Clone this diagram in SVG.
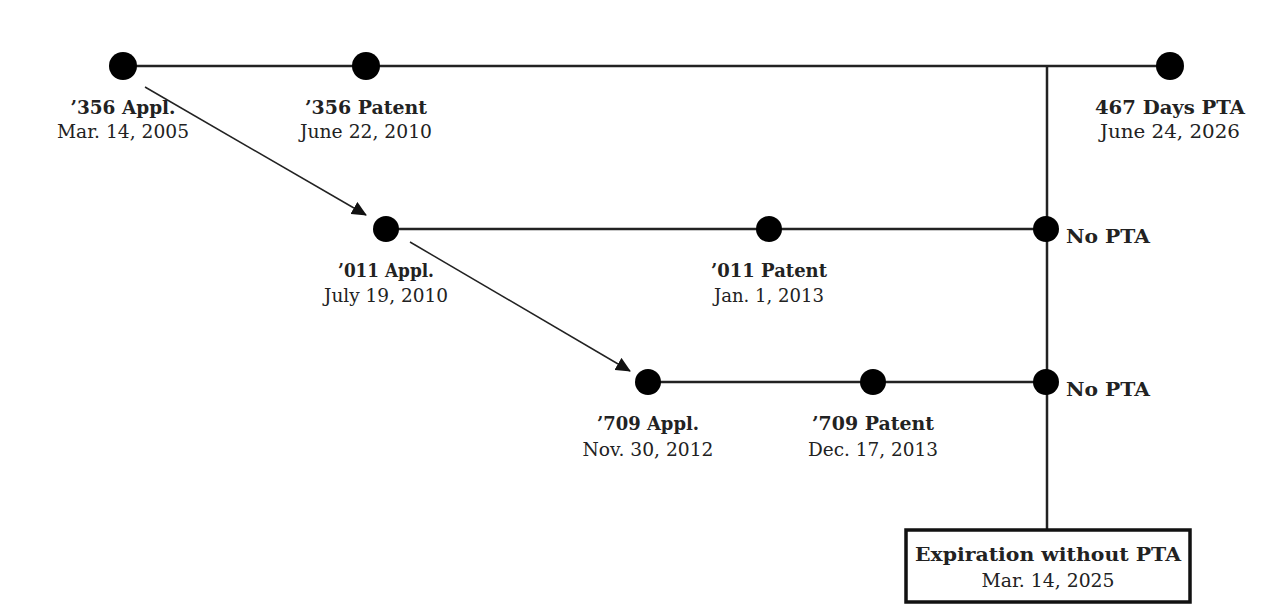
<svg xmlns="http://www.w3.org/2000/svg" width="1266" height="610" viewBox="0 0 1266 610">
<style>
.dot{fill:#000}
.ln{stroke:#222;stroke-width:2.5;fill:none}
.ar{stroke:#222;stroke-width:1.5;fill:none}
text{font-family:"DejaVu Serif","Liberation Serif",serif;fill:#222;text-anchor:middle}
.b{font-weight:bold;font-size:19px}
.n{font-size:19px}
.box{fill:#fff;stroke:#111;stroke-width:3.5}
</style>
<defs>
<marker id="ah" markerWidth="15" markerHeight="14" refX="14" refY="7" orient="auto" markerUnits="userSpaceOnUse">
<path d="M0,0 L15,7 L0,14 z" fill="#111"/>
</marker>
</defs>
<rect width="1266" height="610" fill="#fff"/>
<g id="connectors">
<line class="ln" x1="123" y1="66" x2="1170" y2="66"/>
<line class="ln" x1="386" y1="229" x2="1046" y2="229"/>
<line class="ln" x1="648" y1="382" x2="1046" y2="382"/>
<line class="ln" x1="1047" y1="66" x2="1047" y2="530"/>
<line class="ar" x1="145" y1="87" x2="366" y2="215" marker-end="url(#ah)"/>
<line class="ar" x1="410" y1="242" x2="630" y2="371" marker-end="url(#ah)"/>
</g>
<g id="n356appl"><ellipse class="dot" cx="123" cy="66" rx="14" ry="14"/><text class="b" x="123" y="114" textLength="105" lengthAdjust="spacingAndGlyphs">’356 Appl.</text><text class="n" x="123" y="138" textLength="132" lengthAdjust="spacingAndGlyphs">Mar. 14, 2005</text></g>
<g id="n356pat"><ellipse class="dot" cx="366" cy="66" rx="14" ry="14"/><text class="b" x="366" y="114" textLength="122" lengthAdjust="spacingAndGlyphs">’356 Patent</text><text class="n" x="366" y="138" textLength="132" lengthAdjust="spacingAndGlyphs">June 22, 2010</text></g>
<g id="n467"><ellipse class="dot" cx="1170" cy="66" rx="14" ry="14"/><text class="b" x="1170" y="114" textLength="150" lengthAdjust="spacingAndGlyphs">467 Days PTA</text><text class="n" x="1170" y="138" textLength="140" lengthAdjust="spacingAndGlyphs">June 24, 2026</text></g>
<g id="n011appl"><ellipse class="dot" cx="386" cy="229" rx="13" ry="13"/><text class="b" x="386" y="277" textLength="96" lengthAdjust="spacingAndGlyphs">’011 Appl.</text><text class="n" x="386" y="302" textLength="124" lengthAdjust="spacingAndGlyphs">July 19, 2010</text></g>
<g id="n011pat"><ellipse class="dot" cx="769" cy="229" rx="13" ry="13"/><text class="b" x="769" y="277" textLength="116" lengthAdjust="spacingAndGlyphs">’011 Patent</text><text class="n" x="769" y="302" textLength="110" lengthAdjust="spacingAndGlyphs">Jan. 1, 2013</text></g>
<g id="n011pta"><ellipse class="dot" cx="1046" cy="229" rx="13" ry="13"/><text class="b" x="1066" y="243" style="text-anchor:start" textLength="84" lengthAdjust="spacingAndGlyphs">No PTA</text></g>
<g id="n709appl"><ellipse class="dot" cx="648" cy="382" rx="13" ry="13"/><text class="b" x="648" y="430" textLength="102" lengthAdjust="spacingAndGlyphs">’709 Appl.</text><text class="n" x="648" y="456" textLength="131" lengthAdjust="spacingAndGlyphs">Nov. 30, 2012</text></g>
<g id="n709pat"><ellipse class="dot" cx="873" cy="382" rx="13" ry="13"/><text class="b" x="873" y="430" textLength="122" lengthAdjust="spacingAndGlyphs">’709 Patent</text><text class="n" x="873" y="456" textLength="130" lengthAdjust="spacingAndGlyphs">Dec. 17, 2013</text></g>
<g id="n709pta"><ellipse class="dot" cx="1046" cy="382" rx="13" ry="13"/><text class="b" x="1066" y="396" style="text-anchor:start" textLength="84" lengthAdjust="spacingAndGlyphs">No PTA</text></g>
<g id="expiration"><rect class="box" x="906" y="530" width="284" height="72"/><text class="b" x="1048" y="561" textLength="266" lengthAdjust="spacingAndGlyphs">Expiration without PTA</text><text class="n" x="1048" y="587" textLength="133" lengthAdjust="spacingAndGlyphs">Mar. 14, 2025</text></g>
</svg>
